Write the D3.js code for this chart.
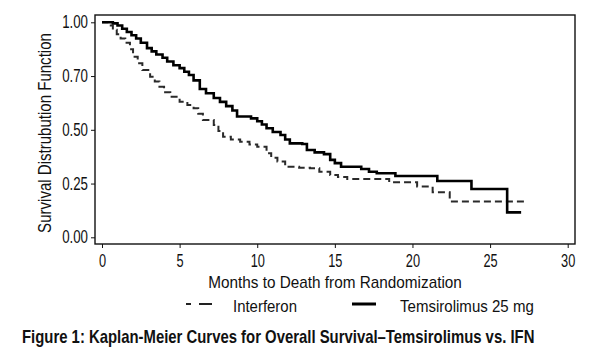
<!DOCTYPE html>
<html>
<head>
<meta charset="utf-8">
<script src="https://cdn.jsdelivr.net/npm/d3@7"></script>
<style>
  html, body { margin: 0; padding: 0; background: #fff; }
  text { font-family: "Liberation Sans", Arial, sans-serif; fill: #111; }
</style>
</head>
<body>
<div id="chart"></div>
<script>
// Kaplan-Meier step data (months, survival)
var temMonths = [0, 0.7, 1.0, 1.3, 1.6, 1.9, 2.2, 2.5, 2.9, 3.2, 3.5, 3.9, 4.2, 4.6, 5.0, 5.3, 5.6, 5.9, 6.3, 6.7, 7.2, 7.6, 8.0, 8.4, 8.7, 9.6, 10.0, 10.3, 10.6, 11.0, 11.5, 11.8, 12.1, 12.9, 13.2, 13.7, 14.3, 14.7, 15.0, 15.4, 16.7, 17.2, 17.7, 18.9, 21.6, 23.8, 26.1, 27.0];
var temSurv   = [1.0, 0.995, 0.985, 0.97, 0.955, 0.94, 0.925, 0.905, 0.88, 0.865, 0.85, 0.835, 0.818, 0.80, 0.787, 0.77, 0.755, 0.73, 0.69, 0.67, 0.648, 0.63, 0.61, 0.59, 0.562, 0.553, 0.54, 0.525, 0.507, 0.49, 0.476, 0.455, 0.437, 0.434, 0.406, 0.395, 0.387, 0.36, 0.345, 0.328, 0.318, 0.305, 0.298, 0.285, 0.262, 0.225, 0.116, 0.116];

var ifnMonths = [0, 0.4, 0.7, 0.95, 1.2, 1.5, 1.8, 2.0, 2.3, 2.6, 3.1, 3.4, 3.7, 4.0, 4.4, 5.0, 5.5, 5.9, 6.2, 6.5, 7.2, 7.5, 7.8, 8.3, 8.9, 9.5, 10.0, 10.6, 10.9, 11.3, 11.8, 12.7, 13.4, 14.0, 14.7, 15.2, 15.8, 18.5, 20.3, 21.3, 22.4, 27.3];
var ifnSurv   = [1.0, 0.985, 0.965, 0.945, 0.925, 0.905, 0.875, 0.84, 0.81, 0.778, 0.747, 0.725, 0.70, 0.675, 0.654, 0.631, 0.615, 0.60, 0.575, 0.546, 0.522, 0.495, 0.468, 0.455, 0.445, 0.432, 0.421, 0.391, 0.37, 0.352, 0.328, 0.324, 0.321, 0.305, 0.29, 0.28, 0.271, 0.256, 0.236, 0.209, 0.167, 0.167];

var xTicks = [0, 5, 10, 15, 20, 25, 30];
var yTicks = [0, 0.25, 0.5, 0.75, 1.0];
var yTickLabels = ["0.00", "0.25", "0.50", "0.70", "1.00"];   // the source prints 0.70 at the 0.75 mark

var seriesNames = ["Interferon", "Temsirolimus 25 mg"];

var xTitle = "Months to Death from Randomization";
var yTitle = "Survival Distrubution Function";
var caption = "Figure 1: Kaplan-Meier Curves for Overall Survival\u2013Temsirolimus vs. IFN";

var width = 600, height = 362;

var svg = d3.select("#chart").append("svg")
    .attr("width", width)
    .attr("height", height);

var x = d3.scaleLinear().domain([0, 30]).range([102, 567.7]);
var y = d3.scaleLinear().domain([0, 1]).range([237.3, 22.3]);

// the figure uses a condensed face: squeeze a text sideways to the width seen there
function squeeze(sel, px, py, target, rot) {
    var w = sel.node().getComputedTextLength();
    var k = w > 0 ? target / w : 1;
    sel.attr("x", 0).attr("y", 0)
        .attr("transform", "translate(" + px + "," + py + ")" + (rot ? " rotate(" + rot + ")" : "") + " scale(" + k.toFixed(3) + ",1)");
    return sel;
}

// frame
svg.append("rect")
    .attr("x", 95).attr("y", 15)
    .attr("width", 480).attr("height", 229)
    .attr("fill", "none")
    .attr("stroke", "#111")
    .attr("stroke-width", 1.4);

// axes
var xAxis = svg.append("g")
    .attr("transform", "translate(0,244)")
    .call(d3.axisBottom(x).tickValues(xTicks).tickSize(4).tickSizeOuter(0));
xAxis.select(".domain").remove();
xAxis.selectAll("text")
    .attr("dy", null)
    .attr("font-size", 17.5)
    .attr("y", 0)
    .attr("transform", "translate(0,22.5) scale(0.73,1)");

var yAxis = svg.append("g")
    .attr("transform", "translate(95,0)")
    .call(d3.axisLeft(y).tickValues(yTicks).tickSize(4).tickPadding(3)
        .tickFormat(function (d, i) { return yTickLabels[i]; }));
yAxis.select(".domain").remove();
yAxis.selectAll("text")
    .attr("font-size", 17.5)
    .attr("x", 0)
    .attr("transform", "translate(-7,0) scale(0.76,1)");

svg.selectAll(".tick line").attr("stroke", "#111");
svg.selectAll(".tick text").attr("fill", "#111").attr("font-family", null);

// curves
var line = d3.line()
    .x(function (d) { return x(d[0]); })
    .y(function (d) { return y(d[1]); })
    .curve(d3.curveStepAfter);

var ifnData = d3.zip(ifnMonths, ifnSurv);
var temData = d3.zip(temMonths, temSurv);

svg.append("path")
    .datum(ifnData)
    .attr("d", line)
    .attr("fill", "none")
    .attr("stroke", "#2a2a2a")
    .attr("stroke-width", 2)
    .attr("stroke-dasharray", "7,4");

svg.append("path")
    .datum(temData)
    .attr("d", line)
    .attr("fill", "none")
    .attr("stroke", "#000")
    .attr("stroke-width", 2.6);

// titles
squeeze(svg.append("text")
    .attr("text-anchor", "middle")
    .attr("font-size", 16)
    .text(xTitle), 335, 288, 254);

squeeze(svg.append("text")
    .attr("text-anchor", "middle")
    .attr("font-size", 18)
    .text(yTitle), 51, 133, 200, -90);

// legend
var legend = svg.append("g");
legend.append("line")
    .attr("x1", 186).attr("x2", 212).attr("y1", 304).attr("y2", 304)
    .attr("stroke", "#222").attr("stroke-width", 2)
    .attr("stroke-dasharray", "5,8,13,7");
squeeze(legend.append("text")
    .attr("font-size", 16.5)
    .text(seriesNames[0]), 233, 311.5, 64);
legend.append("line")
    .attr("x1", 352).attr("x2", 376).attr("y1", 304).attr("y2", 304)
    .attr("stroke", "#000").attr("stroke-width", 3);
squeeze(legend.append("text")
    .attr("font-size", 16.5)
    .text(seriesNames[1]), 400, 311.5, 134);

// caption
squeeze(svg.append("text")
    .attr("font-size", 17.5)
    .attr("font-weight", "bold")
    .text(caption), 22, 343, 513);
</script>
</body>
</html>
